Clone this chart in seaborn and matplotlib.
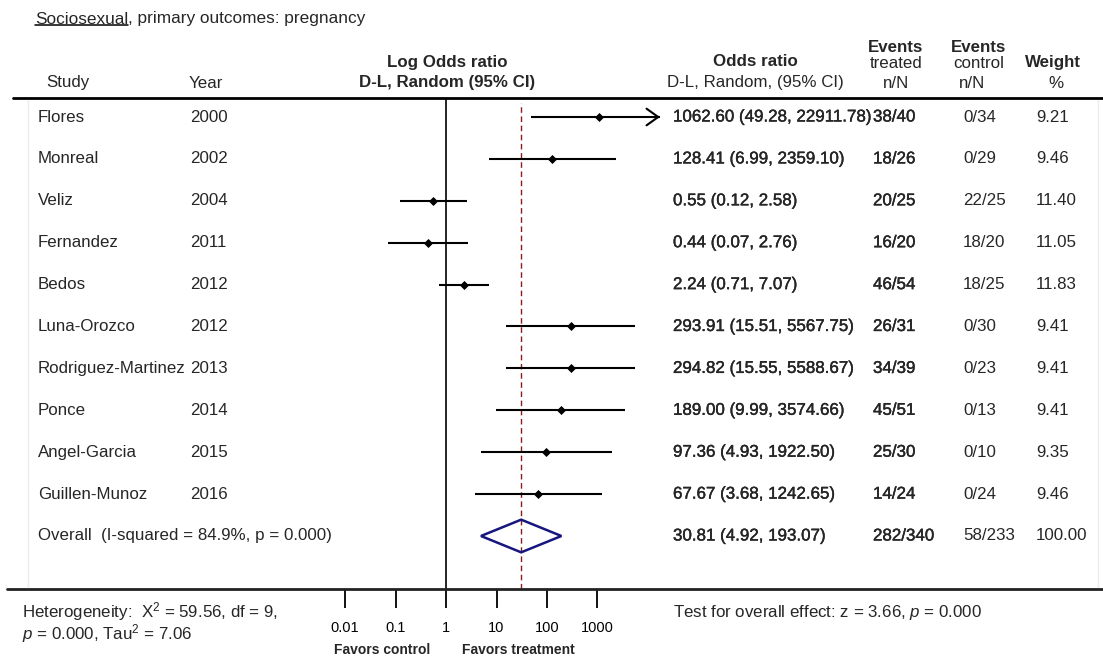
import matplotlib
matplotlib.use("Agg")
import matplotlib.pyplot as plt
import matplotlib.transforms as mtransforms
import matplotlib.patheffects as pe
from matplotlib.lines import Line2D
import pandas as pd
import seaborn as sns

# ---- study-level data -------------------------------------------------------
studies = ["Flores", "Monreal", "Veliz", "Fernandez", "Bedos", "Luna-Orozco",
           "Rodriguez-Martinez", "Ponce", "Angel-Garcia", "Guillen-Munoz"]
years = ["2000", "2002", "2004", "2011", "2012", "2012", "2013", "2014", "2015", "2016"]
odds_ratio = [1062.60, 128.41, 0.55, 0.44, 2.24, 293.91, 294.82, 189.00, 97.36, 67.67]
ci_low = [49.28, 6.99, 0.12, 0.07, 0.71, 15.51, 15.55, 9.99, 4.93, 3.68]
ci_high = [22911.78, 2359.10, 2.58, 2.76, 7.07, 5567.75, 5588.67, 3574.66, 1922.50, 1242.65]
events_treated = ["38/40", "18/26", "20/25", "16/20", "46/54", "26/31", "34/39", "45/51", "25/30", "14/24"]
events_control = ["0/34", "0/29", "22/25", "18/20", "18/25", "0/30", "0/23", "0/13", "0/10", "0/24"]
weights = [9.21, 9.46, 11.40, 11.05, 11.83, 9.41, 9.41, 9.41, 9.35, 9.46]

# ---- pooled estimate --------------------------------------------------------
overall_or = 30.81
overall_low = 4.92
overall_high = 193.07
overall_treated = "282/340"
overall_control = "58/233"
overall_weight = 100.00
i_squared = 84.9
overall_p = "0.000"
chi2, df_het, het_p, tau2 = 59.56, 9, "0.000", 7.06
z_stat, z_p = 3.66, "0.000"

tick_values = [0.01, 0.1, 1, 10, 100, 1000]
tick_labels = ["0.01", "0.1", "1", "10", "100", "1000"]

sns.set_theme(style="white")
plt.rcParams["font.family"] = ["Liberation Sans", "DejaVu Sans"]
plt.rcParams["mathtext.fontset"] = "custom"
plt.rcParams["mathtext.rm"] = "Liberation Sans"
plt.rcParams["mathtext.it"] = "Liberation Sans:italic"

W, H = 1103, 662
fig = plt.figure(figsize=(W / 100, H / 100), dpi=100)
fig.patch.set_facecolor("white")


def fx(px):
    return px / W


def fy(py):
    return 1 - py / H


# plot panel geometry (pixels)
P_LEFT, P_RIGHT, P_TOP, P_BOTTOM = 330, 660, 98, 589
ROW0, ROW_STEP = 117, 41.9
LOG_MIN, LOG_MAX = -2.3, 4.24

ax = fig.add_axes([fx(P_LEFT), fy(P_BOTTOM), fx(P_RIGHT) - fx(P_LEFT), fy(P_TOP) - fy(P_BOTTOM)])
ax.set_xscale("log")
xmin, xmax = 10 ** LOG_MIN, 10 ** LOG_MAX
ax.set_xlim(xmin, xmax)
ax.set_ylim((P_BOTTOM - ROW0) / ROW_STEP, (P_TOP - ROW0) / ROW_STEP)
ax.patch.set_alpha(0)
for s in ax.spines.values():
    s.set_visible(False)

n = len(studies)
rows = list(range(n))
df = pd.DataFrame({"study": studies, "year": years, "or": odds_ratio,
                   "low": ci_low, "high": ci_high, "row": rows})

# reference lines: no effect and pooled estimate
ax.axvline(1, color="black", lw=1.2, zorder=1)
ax.axvline(overall_or, ymin=0, ymax=(P_BOTTOM - 103) / (P_BOTTOM - P_TOP),
           color="#8b1a1a", lw=1.0, dashes=(4.0, 2.6), zorder=1)

# confidence intervals (clipped ones get an arrow)
for _, r in df.iterrows():
    if r["high"] > xmax:
        ax.plot([r["low"], xmax * 0.985], [r["row"], r["row"]], color="black", lw=1.5,
                solid_capstyle="butt", zorder=2)
        ax.annotate("", xy=(xmax, r["row"]), xytext=(xmax * 0.9, r["row"]),
                    arrowprops=dict(arrowstyle="->,head_length=0.42,head_width=0.3",
                                    lw=1.5, color="black", mutation_scale=20,
                                    shrinkA=0, shrinkB=0),
                    annotation_clip=False, zorder=2)
    else:
        ax.plot([r["low"], r["high"]], [r["row"], r["row"]], color="black", lw=1.5,
                solid_capstyle="butt", zorder=2)

sns.scatterplot(data=df, x="or", y="row", marker="D", s=16, color="black",
                edgecolor="black", linewidth=0.6, ax=ax, zorder=3, legend=False)

# pooled diamond
orow = n
ax.fill([overall_low, overall_or, overall_high, overall_or, overall_low],
        [orow, orow - 0.39, orow, orow + 0.39, orow],
        facecolor="none", edgecolor="#16167e", lw=1.8, zorder=3)

ax.set_xticks(tick_values)
ax.set_xticklabels(tick_labels)
ax.minorticks_off()
ax.set_yticks([])
ax.set_xlabel("")
ax.set_ylabel("")
ax.tick_params(axis="x", direction="out", length=14, width=1.3, pad=9,
               labelsize=10.5, colors="black", bottom=True)

# ---- table text ---------------------------------------------------------------
FS = 12.2
row_tf = mtransforms.blended_transform_factory(fig.transFigure, ax.transData)
heavy = [pe.withStroke(linewidth=0.25, foreground="black")]

X_STUDY, X_YEAR, X_OR, X_TRT, X_CTL, X_WT = 38, 190, 673, 873, 963, 1036
for i in range(n):
    ax.text(fx(X_STUDY), i, studies[i], transform=row_tf, fontsize=FS, va="center", ha="left")
    ax.text(fx(X_YEAR), i, years[i], transform=row_tf, fontsize=FS, va="center", ha="left")
    ax.text(fx(X_OR), i, f"{odds_ratio[i]:.2f} ({ci_low[i]:.2f}, {ci_high[i]:.2f})",
            transform=row_tf, fontsize=FS, va="center", ha="left", path_effects=heavy)
    ax.text(fx(X_TRT), i, events_treated[i], transform=row_tf, fontsize=FS, va="center",
            ha="left", path_effects=heavy)
    ax.text(fx(X_CTL), i, events_control[i], transform=row_tf, fontsize=FS, va="center", ha="left")
    ax.text(fx(X_WT), i, f"{weights[i]:.2f}", transform=row_tf, fontsize=FS, va="center", ha="left")

ax.text(fx(X_STUDY), orow, f"Overall  (I-squared = {i_squared:.1f}%, p = {overall_p})",
        transform=row_tf, fontsize=FS, va="center", ha="left")
ax.text(fx(X_OR), orow, f"{overall_or:.2f} ({overall_low:.2f}, {overall_high:.2f})",
        transform=row_tf, fontsize=FS, va="center", ha="left", path_effects=heavy)
ax.text(fx(X_TRT), orow, overall_treated, transform=row_tf, fontsize=FS, va="center",
        ha="left", path_effects=heavy)
ax.text(fx(X_CTL), orow, overall_control, transform=row_tf, fontsize=FS, va="center", ha="left")
ax.text(fx(X_WT), orow, f"{overall_weight:.2f}", transform=row_tf, fontsize=FS, va="center", ha="left")

# ---- header -------------------------------------------------------------------
Y_TITLE = 19
title1 = fig.text(fx(35), fy(Y_TITLE), "Sociosexual", fontsize=12.4, ha="left", va="center")
fig.canvas.draw()
bb = title1.get_window_extent(fig.canvas.get_renderer())
fig.text(bb.x1 / W, fy(Y_TITLE), ", primary outcomes: pregnancy", fontsize=12.4, ha="left", va="center")
fig.add_artist(Line2D([bb.x0 / W, bb.x1 / W], [bb.y0 / H + 0.002, bb.y0 / H + 0.002],
                      color="black", lw=1.1, transform=fig.transFigure))

Y_H1, Y_H2, Y_H0 = 62, 83, 47
fig.text(fx(68), fy(Y_H2), "Study", fontsize=FS, ha="center", va="center")
fig.text(fx(206), fy(Y_H2), "Year", fontsize=FS, ha="center", va="center")
fig.text(fx(447), fy(Y_H1), "Log Odds ratio", fontsize=FS, weight="bold", ha="center", va="center")
fig.text(fx(447), fy(Y_H2), "D-L, Random (95% CI)", fontsize=FS, weight="bold", ha="center", va="center")
fig.text(fx(755), fy(Y_H1), "Odds ratio", fontsize=FS, weight="bold", ha="center", va="center")
fig.text(fx(755), fy(Y_H2), "D-L, Random, (95% CI)", fontsize=FS, ha="center", va="center")
fig.text(fx(896), fy(Y_H0), "Events", fontsize=FS, weight="bold", ha="center", va="center")
fig.text(fx(896), fy(Y_H1 + 1), "treated", fontsize=FS, ha="center", va="center")
fig.text(fx(896), fy(Y_H2), "n/N", fontsize=FS, ha="center", va="center")
fig.text(fx(979), fy(Y_H0), "Events", fontsize=FS, weight="bold", ha="center", va="center")
fig.text(fx(979), fy(Y_H1 + 1), "control", fontsize=FS, ha="center", va="center")
fig.text(fx(972), fy(Y_H2), "n/N", fontsize=FS, ha="center", va="center")
fig.text(fx(1053), fy(Y_H1), "Weight", fontsize=FS, weight="bold", ha="center", va="center")
fig.text(fx(1056), fy(Y_H2), "%", fontsize=FS, ha="center", va="center")

# rules and frame
fig.add_artist(Line2D([fx(13), fx(1103)], [fy(P_TOP), fy(P_TOP)], color="black", lw=2.0,
                      transform=fig.transFigure))
fig.add_artist(Line2D([fx(7), fx(1103)], [fy(P_BOTTOM), fy(P_BOTTOM)], color="#222222", lw=2.0,
                      transform=fig.transFigure))
for xpx in (28, 1098):
    fig.add_artist(Line2D([fx(xpx), fx(xpx)], [fy(P_TOP + 2), fy(P_BOTTOM - 2)], color="#ececec",
                          lw=1.0, transform=fig.transFigure))

# ---- footer -------------------------------------------------------------------
fig.text(fx(22), fy(612), f"Heterogeneity:  X$^2$ = {chi2:.2f}, df = {df_het},",
         fontsize=FS, ha="left", va="center")
fig.text(fx(22), fy(634), f"$p$ = {het_p}, Tau$^2$ = {tau2:.2f}", fontsize=FS, ha="left", va="center")
fig.text(fx(673), fy(613), f"Test for overall effect: z = {z_stat:.2f}, $p$ = {z_p}",
         fontsize=FS, ha="left", va="center")

fav_tf = mtransforms.blended_transform_factory(ax.transData, fig.transFigure)
off = mtransforms.ScaledTranslation(16 / 100, 0, fig.dpi_scale_trans)
fig.text(1, fy(650), "Favors control", fontsize=10, weight="bold", ha="right", va="center",
         transform=fav_tf - off)
fig.text(1, fy(650), "Favors treatment", fontsize=10, weight="bold", ha="left", va="center",
         transform=fav_tf + off)

fig.savefig("out.png", dpi=100, facecolor="white")
